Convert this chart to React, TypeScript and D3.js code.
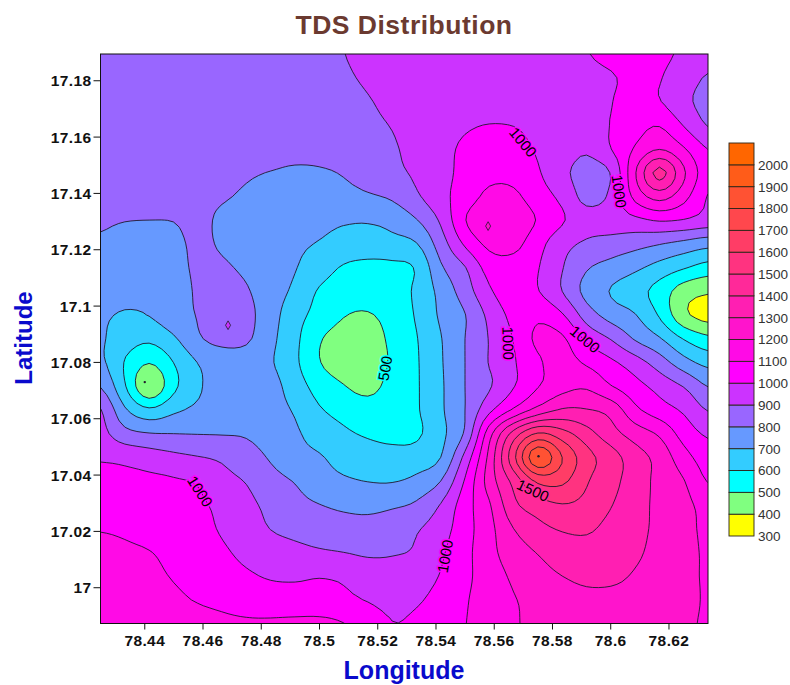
import * as d3 from "d3";
import React from "react";

const lonRange = [78.4248, 78.6334];
const latRange = [16.9873, 17.1895];
const lonTicks = [78.44, 78.46, 78.48, 78.5, 78.52, 78.54, 78.56, 78.58, 78.6, 78.62];
const latTicks = [17, 17.02, 17.04, 17.06, 17.08, 17.1, 17.12, 17.14, 17.16, 17.18];
const levels = d3.range(300, 2200, 100);
const legendLabels = d3.range(300, 2100, 100);
const bandColors = [
  "#ffff00", "#80ff80", "#00ffff", "#33ccff", "#6699ff", "#9966ff", "#cc33ff", "#ff00ff", "#ff0ae6",
  "#ff14cc", "#ff1fb2", "#ff2999", "#ff3380", "#ff3d66", "#ff474d", "#ff5233", "#ff5c19", "#ff6600",
];

// TDS, north to south, west to east
const tds = [
  [850,850,850,850,855,860,865,870,880,890,899,915,930,940,950,955,960,970,980,990,998,1015,1040,1020,985,950],
  [850,850,850,850,855,860,865,870,875,880,892,908,925,935,945,950,955,960,965,975,985,995,1015,1005,950,890],
  [850,850,850,850,850,855,855,860,865,870,880,896,915,930,940,945,950,955,960,965,975,997,1030,1005,925,870],
  [855,855,855,855,855,855,855,860,865,870,875,885,903,925,950,985,1003,998,975,965,975,1002,1060,1095,995,895],
  [860,855,850,845,840,835,830,830,825,825,830,855,890,925,965,1020,1050,1035,990,955,915,998,1110,1195,1110,998],
  [860,855,850,840,830,820,808,798,790,793,805,835,875,915,965,1030,1072,1068,1010,925,865,905,1190,1430,1215,1040],
  [860,855,850,835,825,808,790,775,770,770,775,790,815,885,970,1045,1125,1120,1045,975,870,920,1130,1240,1135,995],
  [815,803,800,802,820,785,765,750,735,722,710,708,730,795,915,1095,1190,1170,1092,1010,940,950,975,1010,995,960],
  [790,770,772,780,815,790,760,735,715,695,670,660,670,695,850,1015,1125,1130,1035,935,885,860,835,805,770,735],
  [785,765,765,770,815,815,780,750,705,650,590,570,575,610,785,895,1040,1060,1005,905,810,765,720,665,610,560],
  [760,735,722,745,815,860,810,745,680,590,545,530,540,620,730,850,985,1060,1005,900,770,695,640,560,450,412],
  [715,690,703,760,805,870,830,740,640,565,505,495,530,610,715,797,925,1030,1080,1010,855,760,705,590,425,365],
  [710,650,620,685,785,830,815,725,625,510,465,460,520,595,695,800,905,1005,1120,1115,980,895,790,710,595,525],
  [720,595,505,600,702,745,750,710,620,505,455,440,515,590,690,800,905,990,1085,1140,1085,1020,945,850,740,670],
  [795,610,410,575,685,740,750,735,650,560,505,470,535,590,685,800,890,995,1095,1165,1185,1105,1035,965,895,797],
  [905,715,620,680,720,745,755,735,690,610,570,545,560,590,685,800,975,1115,1235,1310,1305,1265,1125,1045,985,895],
  [930,835,805,800,797,795,790,755,715,655,615,590,580,585,675,815,1160,1440,1610,1540,1440,1340,1255,1185,1060,985],
  [990,975,950,925,905,885,845,790,735,710,660,640,630,645,700,930,1230,1570,1880,1700,1540,1445,1345,1265,1140,1050],
  [1035,1025,1020,1010,990,930,895,835,795,745,715,698,695,725,800,1010,1245,1430,1620,1620,1510,1430,1355,1270,1205,1095],
  [1055,1045,1035,1025,1015,975,925,875,830,802,780,770,785,815,905,1055,1190,1375,1455,1495,1470,1405,1340,1275,1225,1170],
  [1095,1085,1065,1050,1030,990,945,898,875,860,845,840,860,890,955,1060,1170,1300,1370,1410,1415,1370,1325,1280,1230,1180],
  [1125,1115,1103,1075,1045,1015,975,945,925,910,900,885,892,912,985,1070,1170,1250,1305,1345,1360,1345,1315,1270,1225,1190],
  [1145,1135,1120,1095,1075,1045,1015,990,985,995,985,960,945,960,1005,1075,1155,1215,1265,1300,1325,1325,1290,1255,1215,1195],
  [1160,1150,1135,1115,1095,1080,1065,1050,1045,1040,1020,995,975,990,1030,1090,1150,1195,1225,1250,1270,1265,1250,1235,1215,1195],
  [1170,1165,1155,1145,1130,1115,1108,1110,1115,1118,1102,1050,1002,1015,1055,1098,1135,1190,1220,1235,1245,1240,1230,1220,1208,1195],
];

// tiny closed rings too small for the grid: lon, lat, level
const smallRings = [
  [78.4686, 17.0932, 900],
  [78.5579, 17.1284, 1200],
];

// the very tops of the two sharpest peaks: lon, lat
const peakDots = [
  [78.44, 17.073],
  [78.5752, 17.0467],
];

// contour labels: lon, lat, text, angle
const lineLabels = [
  [78.5699, 17.1582, "1000", 50],
  [78.6029, 17.1408, "1000", 82],
  [78.459, 17.0342, "1000", 57],
  [78.5648, 17.0868, "1000", 88],
  [78.5912, 17.0882, "1000", 40],
  [78.5431, 17.0112, "1000", -80],
  [78.5225, 17.0779, "500", -80],
  [78.5733, 17.0346, "1500", 25],
];

const labelHalo = {
  "1000": "#ff00ff",
  "500": "#00ffff",
  "1500": "#ff2999",
};

const W = 790;
const H = 685;
const REFINE = 4;
const fontFamily = "'Liberation Sans', Arial, sans-serif";

// catmull-rom between the read grid nodes, so the contours come out round and not kinked
const cubic = (a: number, b: number, c: number, d: number, t: number) =>
  b + 0.5 * t * (c - a + t * (2 * a - 5 * b + 4 * c - d + t * (3 * (b - c) + d - a)));

const node = (i: number, j: number) => {
  const row = tds[Math.max(0, Math.min(tds.length - 1, j))];
  return row[Math.max(0, Math.min(row.length - 1, i))];
};

const fieldAt = (u: number, v: number) => {
  const i = Math.floor(u);
  const j = Math.floor(v);
  const across = [-1, 0, 1, 2].map((dj) =>
    cubic(node(i - 1, j + dj), node(i, j + dj), node(i + 1, j + dj), node(i + 2, j + dj), u - i)
  );
  return cubic(across[0], across[1], across[2], across[3], v - j);
};

export default function App() {
  const x = d3.scaleLinear().domain(lonRange).range([100.5, 708]);
  const y = d3.scaleLinear().domain(latRange).range([623.5, 54]);
  const legendY = d3.scaleLinear().domain([300, 2100]).range([536, 143]);

  const rows = tds.length;
  const cols = tds[0].length;

  // the field runs one grid cell past the frame all round; the clip trims it
  const fineW = (cols + 1) * REFINE + 1;
  const fineH = (rows + 1) * REFINE + 1;
  const values: number[] = [];
  for (let fj = 0; fj < fineH; fj++) {
    for (let fi = 0; fi < fineW; fi++) {
      values.push(fieldAt(fi / REFINE - 1, fj / REFINE - 1));
    }
  }

  const cellToLon = (c: number) =>
    lonRange[0] + (((c - 0.5) / REFINE - 1) / (cols - 1)) * (lonRange[1] - lonRange[0]);
  const cellToLat = (c: number) =>
    latRange[1] - (((c - 0.5) / REFINE - 1) / (rows - 1)) * (latRange[1] - latRange[0]);

  const contours = d3.contours().size([fineW, fineH]).smooth(true).thresholds(levels)(values);

  const ringLine = d3
    .line<number[]>()
    .x((p) => x(cellToLon(p[0])))
    .y((p) => y(cellToLat(p[1])))
    .curve(d3.curveLinearClosed);

  const contourPath = (geom: any) =>
    geom.coordinates
      .map((poly: number[][][]) => poly.map((ring) => ringLine(ring.slice(0, -1))).join(""))
      .join("");

  const ringSymbol = d3.symbol().type(d3.symbolDiamond).size(22);

  return (
    <svg
      width={W}
      height={H}
      style={{ position: "absolute", left: 0, top: 0, background: "#fff" }}
      fontFamily={fontFamily}
    >
      <defs>
        <clipPath id="plot-clip">
          <rect x={x(lonRange[0])} y={y(latRange[1])} width={x(lonRange[1]) - x(lonRange[0])} height={y(latRange[0]) - y(latRange[1])} />
        </clipPath>
      </defs>

      <text x={404} y={34} textAnchor="middle" fontSize={26.5} fontWeight="bold" letterSpacing={0.5} fill="#6b3a30">
        TDS Distribution
      </text>

      <g clipPath="url(#plot-clip)">
        {contours.map((c: any, k: number) =>
          k < bandColors.length && c.coordinates.length ? (
            <path
              key={c.value}
              d={contourPath(c)}
              fill={bandColors[k]}
              fillRule="evenodd"
              stroke={k === 0 ? "none" : "#20182c"}
              strokeWidth={0.9}
            />
          ) : null
        )}
        {smallRings.map(([lon, lat, level]) => (
          <path
            key={`${lon}-${lat}`}
            transform={`translate(${x(lon)},${y(lat)})`}
            d={ringSymbol()!}
            fill={bandColors[levels.indexOf(level)]}
            stroke="#20182c"
            strokeWidth={0.8}
          />
        ))}
        {peakDots.map(([lon, lat]) => (
          <circle key={lon} cx={x(lon)} cy={y(lat)} r={1.2} fill="#20182c" />
        ))}
        {lineLabels.map(([lon, lat, label, angle]) => (
          <text
            key={`${lon}-${lat}`}
            transform={`translate(${x(lon as number)},${y(lat as number)}) rotate(${angle})`}
            textAnchor="middle"
            dy="0.36em"
            fontSize={15}
            fill="#000"
            stroke={labelHalo[label as string]}
            strokeWidth={3}
            paintOrder="stroke"
          >
            {label}
          </text>
        ))}
      </g>

      <rect
        x={x(lonRange[0])}
        y={y(latRange[1])}
        width={x(lonRange[1]) - x(lonRange[0])}
        height={y(latRange[0]) - y(latRange[1])}
        fill="none"
        stroke="#111"
        strokeWidth={1}
      />

      {lonTicks.map((t) => (
        <g key={t} transform={`translate(${x(t)},${y(latRange[0])})`}>
          <line y2={6} stroke="#111" />
          <text y={22.5} textAnchor="middle" fontSize={15.5} fontWeight="bold" letterSpacing={0.4} fill="#111">
            {d3.format("~r")(t)}
          </text>
        </g>
      ))}
      {latTicks.map((t) => (
        <g key={t} transform={`translate(${x(lonRange[0])},${y(t)})`}>
          <line x2={-7} stroke="#111" />
          <text x={-9} dy="0.36em" textAnchor="end" fontSize={15.5} fontWeight="bold" letterSpacing={0.4} fill="#111">
            {d3.format("~r")(t)}
          </text>
        </g>
      ))}

      <text x={404} y={679} textAnchor="middle" fontSize={25} fontWeight="bold" fill="#0a0acc">
        Longitude
      </text>
      <text transform="translate(32,338) rotate(-90)" textAnchor="middle" fontSize={24} fontWeight="bold" fill="#0a0acc">
        Latitude
      </text>

      {bandColors.map((c, k) => (
        <rect
          key={c}
          x={729}
          y={legendY(levels[k + 1])}
          width={25}
          height={legendY(levels[k]) - legendY(levels[k + 1])}
          fill={c}
          stroke="#2a2418"
          strokeWidth={0.9}
        />
      ))}
      {legendLabels.map((v) => (
        <text key={v} x={758} y={legendY(v)} dy="0.36em" fontSize={13.5} fill="#333">
          {v}
        </text>
      ))}
    </svg>
  );
}
